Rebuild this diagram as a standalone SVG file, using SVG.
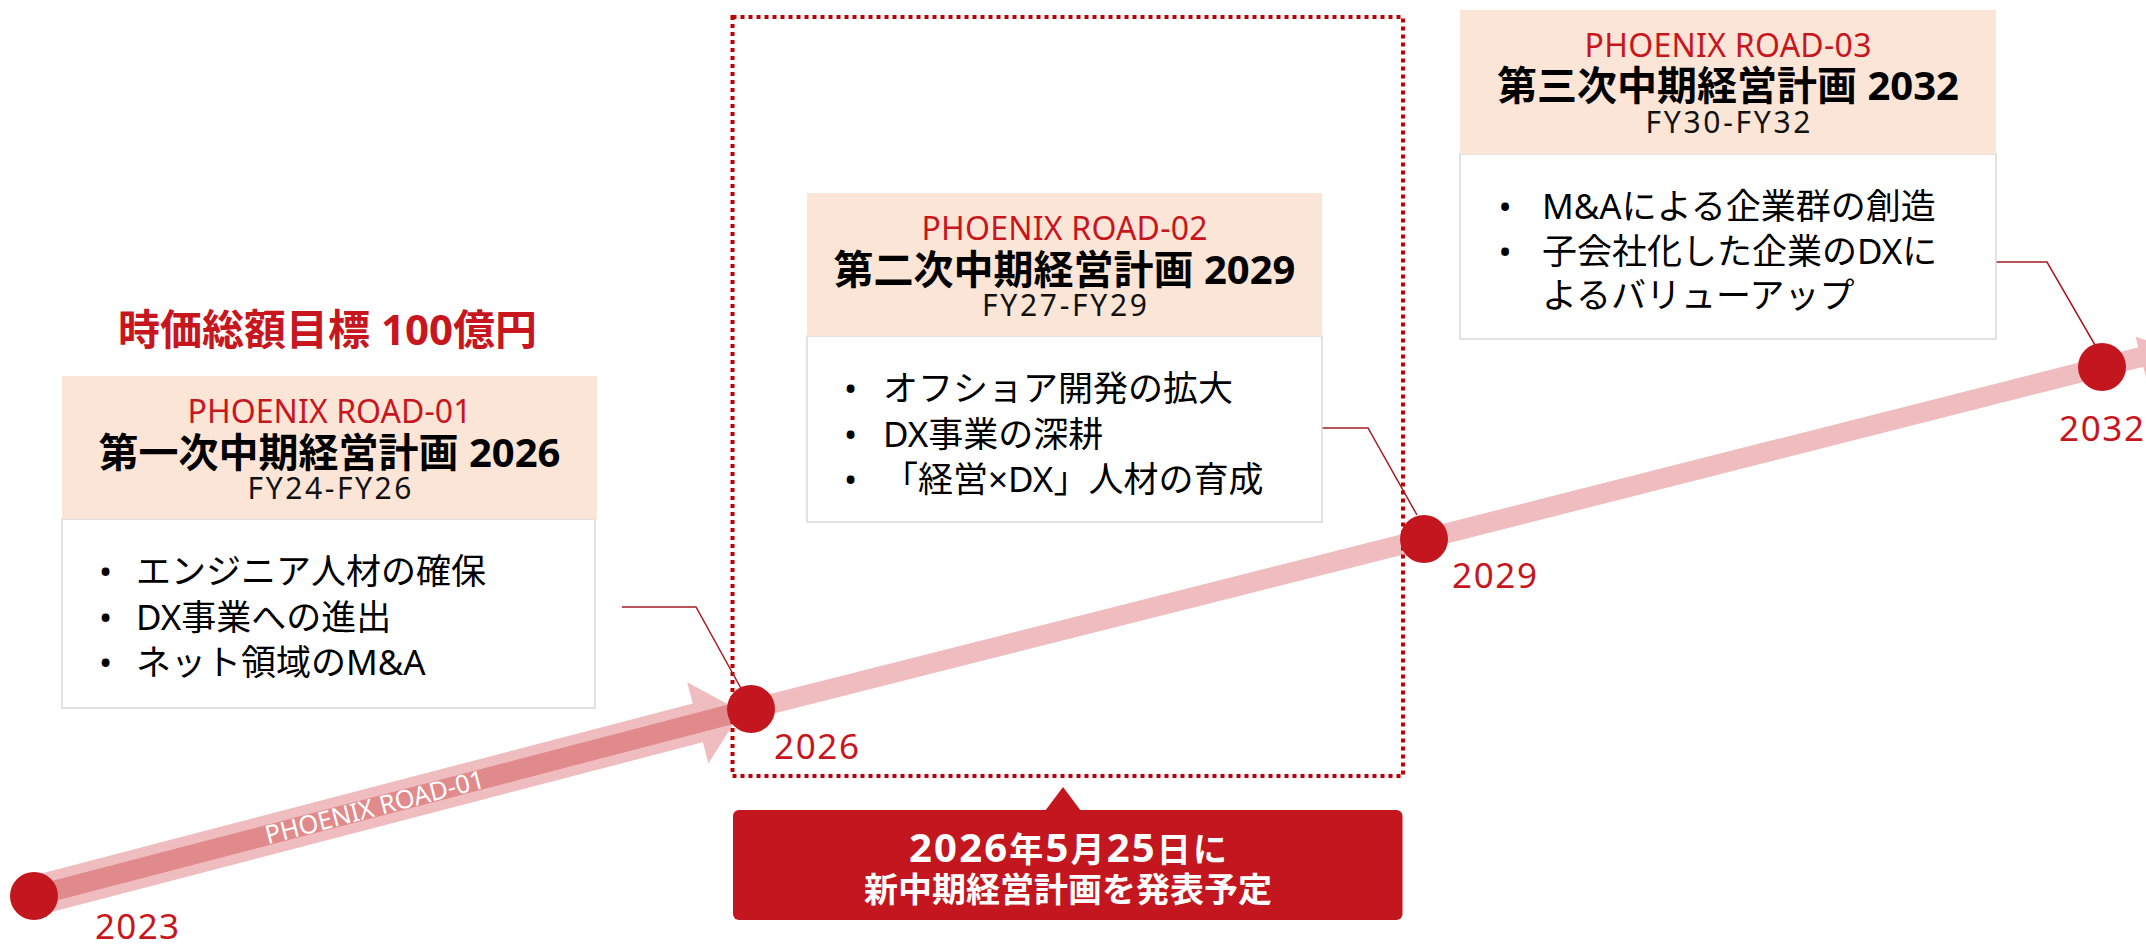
<svg xmlns="http://www.w3.org/2000/svg" width="2146" height="944" viewBox="0 0 2146 944">
<style>
.t{font-family:"Noto Sans","Noto Sans CJK JP",sans-serif}
.hf{fill:#fbe5d6}
.bd{fill:#fff;stroke:#d9d9d9;stroke-width:1.5}
.pr{font-size:32px;fill:#c8161e;text-anchor:middle}
.hl{font-size:40px;font-weight:bold;fill:#000;text-anchor:middle}
.fy{font-size:30px;fill:#111;text-anchor:middle}
.bl{font-size:35px;fill:#000}
.bu{font-size:35px;fill:#000;text-anchor:middle}
.yr{font-size:35px;fill:#c8161e}
.dot{fill:#c4161e}
.cn{fill:none;stroke:#a61c22;stroke-width:1.5}
</style>
<rect width="2146" height="944" fill="#fff"/>

<g id="timeline">
  <polyline points="34,896 751,709 1424,539 2102,367 2141,357" fill="none" stroke="#efbdbf" stroke-width="20"/>
  <polygon points="2135.6,336.8 2174.7,348.6 2146,377.6" fill="#efbdbf"/>
  <g transform="translate(34,896) rotate(-14.62)">
    <polygon points="0,-20 686,-20 686,-42 731,0 686,42 686,20 0,20" fill="#efbdbf"/>
    <line x1="0" y1="0" x2="741" y2="0" stroke="#e08a8c" stroke-width="20"/>
    <text class="t" x="352" y="9" font-size="25.5" fill="#fff" text-anchor="middle">PHOENIX ROAD-01</text>
  </g>
</g>

<g id="focus-frame">
  <rect x="732.5" y="17" width="670.5" height="759" fill="none" stroke="#c00000" stroke-width="4" stroke-dasharray="4 4"/>
</g>

<g id="connectors">
  <polyline class="cn" points="622,607 696,607 743,692"/>
  <polyline class="cn" points="1322,428 1368,428 1417,515"/>
  <polyline class="cn" points="1996,262 2047,262 2095,345"/>
</g>

<g id="title">
  <text class="t" x="327.5" y="345" font-size="42" font-weight="bold" fill="#c8161e" text-anchor="middle">時価総額目標 100億円</text>
</g>

<g id="plan1">
  <rect class="bd" x="62" y="519" width="533" height="189"/>
  <rect class="hf" x="62" y="376" width="535" height="143"/>
  <text class="t pr" x="329.5" y="423" textLength="284" lengthAdjust="spacing">PHOENIX ROAD-01</text>
  <text class="t hl" x="329.5" y="467">第一次中期経営計画 2026</text>
  <text class="t fy" x="329.5" y="499" textLength="164" lengthAdjust="spacing">FY24-FY26</text>
  <text class="t bu" x="105.5" y="584">•</text>
  <text class="t bu" x="105.5" y="630">•</text>
  <text class="t bu" x="105.5" y="675">•</text>
  <text class="t bl" x="136" y="584">エンジニア人材の確保</text>
  <text class="t bl" x="136" y="630">DX事業への進出</text>
  <text class="t bl" x="136" y="675">ネット領域のM&amp;A</text>
</g>

<g id="plan2">
  <rect class="bd" x="807" y="336" width="515" height="186"/>
  <rect class="hf" x="807" y="193" width="515" height="143"/>
  <text class="t pr" x="1064.5" y="240" textLength="286" lengthAdjust="spacing">PHOENIX ROAD-02</text>
  <text class="t hl" x="1064.5" y="284">第二次中期経営計画 2029</text>
  <text class="t fy" x="1064.5" y="316" textLength="165" lengthAdjust="spacing">FY27-FY29</text>
  <text class="t bu" x="850.5" y="401">•</text>
  <text class="t bu" x="850.5" y="447">•</text>
  <text class="t bu" x="850.5" y="492">•</text>
  <text class="t bl" x="883" y="401">オフショア開発の拡大</text>
  <text class="t bl" x="883" y="447">DX事業の深耕</text>
  <text class="t bl" x="883" y="492">「経営×DX」人材の育成</text>
</g>

<g id="plan3">
  <rect class="bd" x="1460" y="154" width="536" height="185"/>
  <rect class="hf" x="1460" y="10" width="536" height="144"/>
  <text class="t pr" x="1728" y="57" textLength="287" lengthAdjust="spacing">PHOENIX ROAD-03</text>
  <text class="t hl" x="1728" y="100">第三次中期経営計画 2032</text>
  <text class="t fy" x="1728" y="133" textLength="165" lengthAdjust="spacing">FY30-FY32</text>
  <text class="t bu" x="1505" y="219">•</text>
  <text class="t bu" x="1505" y="264">•</text>
  <text class="t bl" x="1542" y="219">M&amp;Aによる企業群の創造</text>
  <text class="t bl" x="1542" y="264">子会社化した企業のDXに</text>
  <text class="t bl" x="1542" y="308">よるバリューアップ</text>
</g>

<g id="m2023">
  <circle class="dot" cx="34" cy="896" r="24"/>
  <text class="t yr" x="95" y="939" textLength="84" lengthAdjust="spacing">2023</text>
</g>
<g id="m2026">
  <circle class="dot" cx="751" cy="709" r="24"/>
  <text class="t yr" x="774" y="759" textLength="85" lengthAdjust="spacing">2026</text>
</g>
<g id="m2029">
  <circle class="dot" cx="1424" cy="539" r="24"/>
  <text class="t yr" x="1452" y="588" textLength="85" lengthAdjust="spacing">2029</text>
</g>
<g id="m2032">
  <circle class="dot" cx="2102" cy="367" r="24"/>
  <text class="t yr" x="2059" y="441" textLength="85" lengthAdjust="spacing">2032</text>
</g>

<g id="callout">
  <polygon points="1063,787 1081,811 1045,811" fill="#c4161e"/>
  <rect x="733" y="810" width="669.5" height="110" rx="6" fill="#c4161e"/>
  <text class="t" x="1068" y="862" font-size="34" font-weight="bold" fill="#fff" text-anchor="middle" textLength="318" lengthAdjust="spacing"><tspan font-size="40">2026</tspan>年<tspan font-size="40">5</tspan>月<tspan font-size="40">25</tspan>日に</text>
  <text class="t" x="1068" y="902" font-size="34" font-weight="bold" fill="#fff" text-anchor="middle">新中期経営計画を発表予定</text>
</g>
</svg>
